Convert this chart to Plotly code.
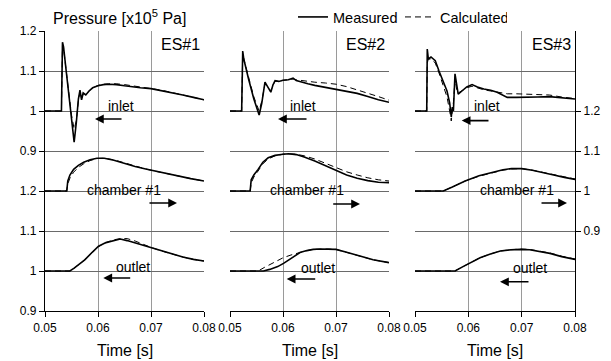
import plotly.graph_objects as go

# ---------------- data (pressure in 1e5 Pa, time in s) ----------------
# ES#1
es1_inlet_t = [0.05, 0.0531, 0.0533, 0.0535, 0.0540, 0.0544, 0.0550, 0.0555, 0.0559, 0.0563, 0.0566, 0.0569,
               0.0572, 0.0577, 0.0583, 0.0590, 0.0600, 0.0610, 0.0620, 0.0635, 0.0650, 0.0665, 0.0680,
               0.0700, 0.0720, 0.0740, 0.0760, 0.0780, 0.0800]
es1_inlet_meas = [1.0, 1.0, 1.172, 1.16, 1.10, 1.05, 0.98, 0.922, 0.97, 1.03, 1.052, 1.028,
                  1.045, 1.040, 1.050, 1.058, 1.063, 1.066, 1.067, 1.066, 1.063, 1.060, 1.058,
                  1.056, 1.051, 1.045, 1.040, 1.034, 1.028]
es1_inlet_calc = [1.0, 1.0, 1.165, 1.158, 1.10, 1.052, 0.99, 0.955, 0.975, 1.025, 1.048, 1.032,
                  1.042, 1.042, 1.050, 1.058, 1.064, 1.067, 1.068, 1.068, 1.066, 1.063, 1.060,
                  1.057, 1.052, 1.046, 1.040, 1.034, 1.028]
es1_ch_t = [0.05, 0.0541, 0.0543, 0.0547, 0.0554, 0.0563, 0.0573, 0.0585, 0.0598, 0.0612, 0.0630, 0.0650,
            0.0670, 0.0690, 0.0710, 0.0730, 0.0750, 0.0775, 0.0800]
es1_ch_meas = [1.0, 1.0, 1.025, 1.040, 1.054, 1.064, 1.072, 1.078, 1.082, 1.082, 1.077, 1.069,
               1.061, 1.055, 1.049, 1.043, 1.037, 1.031, 1.025]
es1_ch_calc = [1.0, 1.0, 1.018, 1.032, 1.047, 1.059, 1.068, 1.076, 1.081, 1.082, 1.078, 1.070,
               1.062, 1.055, 1.049, 1.043, 1.037, 1.031, 1.025]
es1_out_t = [0.05, 0.0547, 0.0555, 0.0565, 0.0575, 0.0590, 0.0601, 0.0615, 0.0630, 0.0642, 0.0655, 0.0670,
             0.0685, 0.0700, 0.0720, 0.0740, 0.0760, 0.0780, 0.0800]
es1_out_meas = [1.0, 1.0, 1.007, 1.018, 1.028, 1.048, 1.062, 1.071, 1.077, 1.080, 1.076, 1.070,
                1.064, 1.058, 1.050, 1.042, 1.035, 1.029, 1.025]
es1_out_calc = [1.0, 1.0, 1.007, 1.018, 1.028, 1.048, 1.061, 1.071, 1.078, 1.081, 1.081, 1.075,
                1.066, 1.059, 1.050, 1.042, 1.035, 1.029, 1.025]

# ES#2
es2_inlet_t = [0.05, 0.0522, 0.0524, 0.0526, 0.0535, 0.0545, 0.0555, 0.0560, 0.0566, 0.0571, 0.0577, 0.0581,
               0.0585, 0.0592, 0.0600, 0.0610, 0.0619, 0.0625, 0.0635, 0.0647, 0.0660, 0.0680, 0.0700,
               0.0720, 0.0740, 0.0760, 0.0780, 0.0800]
es2_inlet_meas = [1.0, 1.0, 1.150, 1.130, 1.080, 1.030, 0.990, 1.020, 1.072, 1.060, 1.047, 1.065,
                  1.076, 1.074, 1.077, 1.078, 1.082, 1.076, 1.072, 1.068, 1.064, 1.059, 1.055,
                  1.050, 1.044, 1.036, 1.028, 1.022]
es2_inlet_calc = [1.0, 1.0, 1.140, 1.130, 1.085, 1.035, 1.000, 1.025, 1.068, 1.060, 1.050, 1.065,
                  1.074, 1.075, 1.077, 1.079, 1.080, 1.078, 1.076, 1.074, 1.072, 1.070, 1.067,
                  1.061, 1.053, 1.045, 1.036, 1.027]
es2_ch_t = [0.05, 0.0538, 0.0540, 0.0545, 0.0553, 0.0562, 0.0572, 0.0585, 0.0600, 0.0610, 0.0625, 0.0640,
            0.0660, 0.0680, 0.0700, 0.0720, 0.0740, 0.0760, 0.0780, 0.0800]
es2_ch_meas = [1.0, 1.0, 1.028, 1.040, 1.054, 1.072, 1.083, 1.089, 1.092, 1.093, 1.091, 1.085,
               1.075, 1.063, 1.050, 1.040, 1.032, 1.026, 1.022, 1.021]
es2_ch_calc = [1.0, 1.0, 1.020, 1.035, 1.050, 1.068, 1.080, 1.088, 1.092, 1.093, 1.092, 1.088,
               1.080, 1.069, 1.058, 1.048, 1.040, 1.033, 1.028, 1.025]
es2_out_meas_t = [0.05, 0.0563, 0.0575, 0.0590, 0.0601, 0.0615, 0.0632, 0.0645, 0.0657, 0.0670, 0.0685,
                  0.0700, 0.0720, 0.0745, 0.0770, 0.0800]
es2_out_meas = [1.0, 1.0, 1.004, 1.011, 1.019, 1.032, 1.046, 1.051, 1.054, 1.055, 1.055,
                1.054, 1.047, 1.037, 1.028, 1.021]
es2_out_calc_t = [0.05, 0.0553, 0.0565, 0.0580, 0.0600, 0.0615, 0.0632, 0.0645, 0.0657, 0.0670, 0.0685,
                  0.0700, 0.0720, 0.0745, 0.0770, 0.0800]
es2_out_calc = [1.0, 1.0, 1.009, 1.020, 1.033, 1.040, 1.047, 1.051, 1.054, 1.055, 1.055,
                1.054, 1.047, 1.037, 1.028, 1.021]

# ES#3
es3_inlet_t = [0.05, 0.0522, 0.0523, 0.0525, 0.0530, 0.0538, 0.0545, 0.0552, 0.0560, 0.0565, 0.0568, 0.0570,
               0.0572, 0.0575, 0.0578, 0.0581, 0.0588, 0.0597, 0.0607, 0.0617, 0.0629, 0.0642, 0.0654,
               0.0665, 0.0673, 0.0690, 0.0710, 0.0730, 0.0752, 0.0775, 0.0800]
es3_inlet_meas = [1.0, 1.0, 1.155, 1.130, 1.135, 1.126, 1.100, 1.075, 1.050, 1.020, 0.985, 1.010,
                  1.000, 1.093, 1.060, 1.042, 1.050, 1.060, 1.066, 1.060, 1.055, 1.052, 1.047,
                  1.040, 1.034, 1.034, 1.034, 1.035, 1.036, 1.033, 1.030]
es3_inlet_calc = [1.0, 1.0, 1.120, 1.130, 1.130, 1.120, 1.095, 1.065, 1.035, 1.000, 0.975, 1.000,
                  1.020, 1.080, 1.055, 1.045, 1.050, 1.058, 1.062, 1.058, 1.053, 1.050, 1.048,
                  1.045, 1.043, 1.043, 1.042, 1.041, 1.040, 1.035, 1.031]
es3_ch_t = [0.05, 0.0553, 0.0570, 0.0594, 0.0620, 0.0644, 0.0665, 0.0681, 0.0700, 0.0720, 0.0738, 0.0760,
            0.0780, 0.0800]
es3_ch_meas = [1.0, 1.0, 1.010, 1.025, 1.038, 1.046, 1.053, 1.056, 1.056, 1.052, 1.046, 1.040, 1.034, 1.029]
es3_ch_calc = [1.0, 1.0, 1.010, 1.025, 1.037, 1.046, 1.052, 1.055, 1.056, 1.052, 1.047, 1.041, 1.035, 1.030]
es3_out_t = [0.05, 0.0575, 0.0590, 0.0605, 0.0622, 0.0640, 0.0660, 0.0680, 0.0697, 0.0715, 0.0735, 0.0753,
             0.0775, 0.0800]
es3_out_meas = [1.0, 1.0, 1.011, 1.022, 1.033, 1.042, 1.050, 1.053, 1.054, 1.053, 1.049, 1.044, 1.036, 1.029]
es3_out_calc = [1.0, 1.0, 1.011, 1.022, 1.033, 1.042, 1.050, 1.053, 1.055, 1.054, 1.050, 1.045, 1.037, 1.030]

panel_labels = ["ES#1", "ES#2", "ES#3"]
x_ticks = [0.05, 0.06, 0.07, 0.08]
x_ticktext = ["0.05", "0.06", "0.07", "0.08"]
left_tickvals = [0.0, 0.1, 0.2, 0.3, 0.4, 0.5, 0.6, 0.7]
left_ticktext = ["0.9", "1", "1.1", "1.2", "0.9", "1", "1.1", "1.2"]
right_tickvals = [0.2, 0.3, 0.4, 0.5]
right_ticktext = ["0.9", "1", "1.1", "1.2"]

# stacked display: each curve is shifted so it sits in its own band of the shared axis
OFF_INLET, OFF_CHAMBER, OFF_OUTLET = 0.5, 0.7, 0.9

panels = [
    dict(inlet=(es1_inlet_t, es1_inlet_meas, es1_inlet_t, es1_inlet_calc),
         ch=(es1_ch_t, es1_ch_meas, es1_ch_t, es1_ch_calc),
         out=(es1_out_t, es1_out_meas, es1_out_t, es1_out_calc)),
    dict(inlet=(es2_inlet_t, es2_inlet_meas, es2_inlet_t, es2_inlet_calc),
         ch=(es2_ch_t, es2_ch_meas, es2_ch_t, es2_ch_calc),
         out=(es2_out_meas_t, es2_out_meas, es2_out_calc_t, es2_out_calc)),
    dict(inlet=(es3_inlet_t, es3_inlet_meas, es3_inlet_t, es3_inlet_calc),
         ch=(es3_ch_t, es3_ch_meas, es3_ch_t, es3_ch_calc),
         out=(es3_out_t, es3_out_meas, es3_out_t, es3_out_calc)),
]

W, H = 611, 361
FONT = "Liberation Sans, Arial, sans-serif"
x_px = [(45, 204), (230, 389), (415, 575)]
y_dom = [1 - 311 / H, 1 - 31 / H]

fig = go.Figure()
first = True
for i, p in enumerate(panels):
    xa = "x" if i == 0 else f"x{i+1}"
    ya = "y" if i == 0 else f"y{i+1}"
    for key, off in (("inlet", OFF_INLET), ("ch", OFF_CHAMBER), ("out", OFF_OUTLET)):
        tm, vm, tc, vc = p[key]
        yref = "y4" if (i == 2 and key == "ch") else ya
        fig.add_trace(go.Scatter(x=tc, y=[v - off for v in vc], xaxis=xa, yaxis=yref, mode="lines",
                                 line=dict(color="black", width=1, dash="6px,4px"),
                                 name="Calculated", showlegend=first, legendrank=2))
        fig.add_trace(go.Scatter(x=tm, y=[v - off for v in vm], xaxis=xa, yaxis=yref, mode="lines",
                                 line=dict(color="black", width=1.6),
                                 name="Measured", showlegend=first, legendrank=1))
        first = False

layout = dict(
    width=W, height=H, margin=dict(l=0, r=0, t=0, b=0, autoexpand=False),
    paper_bgcolor="white", plot_bgcolor="white",
    font=dict(family=FONT, color="black", size=12),
    hovermode=False,
    legend=dict(orientation="h", x=293 / W, y=1 - 1 / H, xanchor="left", yanchor="top",
                font=dict(size=14.5), bgcolor="rgba(0,0,0,0)", traceorder="normal",
                itemwidth=30, tracegroupgap=0, entrywidth=62, entrywidthmode="pixels"),
)
for i, (a, b) in enumerate(x_px):
    sfx = "" if i == 0 else str(i + 1)
    layout[f"xaxis{sfx}"] = dict(
        domain=[a / W, b / W], range=[0.05, 0.08], anchor="y" + sfx,
        tickvals=x_ticks, ticktext=x_ticktext, ticks="outside", ticklen=5, tickcolor="black",
        showline=True, linecolor="black", linewidth=1.2, showgrid=True, gridcolor="#9a9a9a", gridwidth=1,
        zeroline=False, tickfont=dict(size=12), automargin=False,
    )
    layout[f"yaxis{sfx}"] = dict(
        domain=y_dom, range=[0, 0.7], anchor="x" + sfx,
        tickvals=left_tickvals, ticktext=left_ticktext,
        showticklabels=(i == 0), ticks="outside" if i == 0 else "", ticklen=5, tickcolor="black",
        showline=(i == 0), linecolor="black", linewidth=1.2,
        showgrid=True, gridcolor="#6a6a6a", gridwidth=1, zeroline=False, tickfont=dict(size=12),
        automargin=False,
    )
layout["yaxis4"] = dict(
    domain=y_dom, range=[0, 0.7], anchor="x3", overlaying="y3", side="right",
    tickvals=right_tickvals, ticktext=right_ticktext, ticks="outside", ticklen=5, tickcolor="black",
    showline=True, linecolor="black", linewidth=1.2, showgrid=False, zeroline=False, tickfont=dict(size=12),
    automargin=False,
)
fig.update_layout(**layout)

ann = []
# title and axis titles
ann.append(dict(text="Pressure [x10<sup>5</sup> Pa]", xref="paper", yref="paper", x=119 / W, y=1 - 17 / H,
                xanchor="center", yanchor="middle", showarrow=False, font=dict(size=16)))
for i in range(3):
    sfx = "" if i == 0 else str(i + 1)
    ann.append(dict(text="Time [s]", xref=f"x{sfx} domain", yref="paper", x=0.5, y=1 - 350 / H,
                    xanchor="center", yanchor="middle", showarrow=False, font=dict(size=16)))
    ann.append(dict(text=panel_labels[i], xref=f"x{sfx}", yref=f"y{sfx}", x=0.0797, y=0.665,
                    xanchor="right", yanchor="middle", showarrow=False, font=dict(size=16)))

# curve labels with direction arrows: (panel, text, tx, ty, tail_x, head_x, arrow_y)
labels = [
    (0, "inlet", 0.0643, 0.512, 0.06472, 0.05943, 0.48),
    (0, "chamber #1", 0.0649, 0.3025, 0.06943, 0.07491, 0.27),
    (0, "outlet", 0.0666, 0.11, 0.06636, 0.0610, 0.0825),
    (1, "inlet", 0.06377, 0.512, 0.06472, 0.05906, 0.48),
    (1, "chamber #1", 0.06453, 0.3025, 0.06919, 0.07453, 0.2675),
    (1, "outlet", 0.06651, 0.1075, 0.06636, 0.0607, 0.08),
    (2, "inlet", 0.0635, 0.512, 0.06406, 0.05876, 0.476),
    (2, "chamber #1", 0.06913, 0.3025, 0.07344, 0.0785, 0.27),
    (2, "outlet", 0.07156, 0.1075, 0.07156, 0.06594, 0.073),
]
for pi, txt, tx, ty, ax0, hx, ay in labels:
    sfx = "" if pi == 0 else str(pi + 1)
    ann.append(dict(text=txt, xref=f"x{sfx}", yref=f"y{sfx}", x=tx, y=ty, showarrow=False,
                    xanchor="center", yanchor="middle", font=dict(size=14)))
    ann.append(dict(text="", xref=f"x{sfx}", yref=f"y{sfx}", x=hx, y=ay, axref=f"x{sfx}", ayref=f"y{sfx}",
                    ax=ax0, ay=ay, showarrow=True, arrowhead=2, arrowsize=1.1, arrowwidth=1.6,
                    arrowcolor="black"))
fig.update_layout(annotations=ann)

fig.write_html("out.html")
